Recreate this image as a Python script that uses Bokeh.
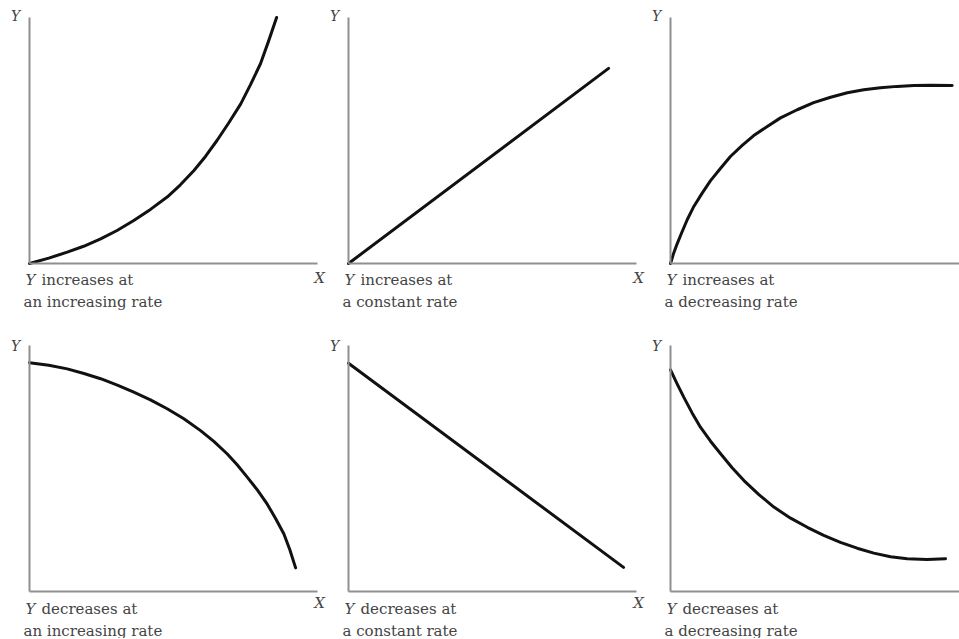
from bokeh.plotting import figure
from bokeh.layouts import column, row
from bokeh.models import Range1d, FixedTicker, Label, LinearAxis
from bokeh.embed import file_html
from bokeh.resources import INLINE

# ---- data (panel units: x 0-10, y 0-10) ----
inc_inc_x = [0.0, 0.67, 1.31, 1.88, 2.47, 3.04, 3.62, 4.20, 4.78, 5.24,
             5.71, 6.11, 6.51, 6.91, 7.33, 7.67, 8.02, 8.31, 8.58]
inc_inc_y = [0.0, 0.22, 0.46, 0.70, 1.00, 1.34, 1.75, 2.20, 2.70, 3.20,
             3.78, 4.35, 5.00, 5.70, 6.48, 7.26, 8.12, 9.07, 10.0]

inc_con_x = [0.0, 9.03]
inc_con_y = [0.0, 7.93]

inc_dec_x = [0.0, 0.11, 0.23, 0.41, 0.58, 0.81, 1.10, 1.39, 1.74, 2.08, 2.49, 2.89,
             3.36, 3.82, 4.40, 4.97, 5.56, 6.14, 6.71, 7.29, 7.87, 8.45, 9.03, 9.78]
inc_dec_y = [0.0, 0.42, 0.80, 1.31, 1.78, 2.32, 2.86, 3.37, 3.87, 4.35, 4.80, 5.20,
             5.57, 5.92, 6.25, 6.54, 6.76, 6.94, 7.06, 7.14, 7.20, 7.24, 7.25, 7.24]

dec_inc_x = [0.0, 0.67, 1.31, 1.89, 2.47, 3.05, 3.62, 4.20, 4.78, 5.36, 5.94,
             6.40, 6.86, 7.21, 7.56, 7.91, 8.25, 8.54, 8.83, 9.04, 9.24]
dec_inc_y = [9.30, 9.20, 9.05, 8.86, 8.65, 8.39, 8.10, 7.79, 7.43, 7.02, 6.54,
             6.10, 5.60, 5.15, 4.65, 4.13, 3.56, 2.98, 2.35, 1.70, 0.96]

dec_con_x = [0.0, 9.55]
dec_con_y = [9.28, 0.98]

dec_dec_x = [0.0, 0.23, 0.46, 0.75, 1.04, 1.39, 1.74, 2.14, 2.55, 3.07, 3.59,
             4.17, 4.75, 5.32, 5.90, 6.48, 7.06, 7.64, 8.22, 8.91, 9.55]
dec_dec_y = [9.01, 8.44, 7.90, 7.26, 6.68, 6.11, 5.60, 5.03, 4.51, 3.94, 3.43,
             2.98, 2.61, 2.28, 2.00, 1.76, 1.56, 1.41, 1.33, 1.30, 1.33]

caption_line1 = ["increases at", "increases at", "increases at",
                 "decreases at", "decreases at", "decreases at"]
caption_line2 = ["an increasing rate", "a constant rate", "a decreasing rate",
                 "an increasing rate", "a constant rate", "a decreasing rate"]
axis_y_label = "Y"
axis_x_label = "X"

series = [
    (inc_inc_x, inc_inc_y), (inc_con_x, inc_con_y), (inc_dec_x, inc_dec_y),
    (dec_inc_x, dec_inc_y), (dec_con_x, dec_con_y), (dec_dec_x, dec_dec_y),
]

# ---- layout / style ----
FONT = "DejaVu Serif"
TXT = "#444444"
AXIS = "#8f8f8f"
PX_X = 28.8   # pixels per x unit
PX_Y = 24.6   # pixels per y unit

col_widths = [328, 320, 311]
col_axis_left = [29, 20, 22]       # y-axis position inside each column
col_axis_len = [10.0, 10.0, None]  # None -> runs to the edge
row_heights = [335, 303]
row_axis_bottom = [263, 256]       # x-axis position inside each row
Y_dy = [2, 0]
X_dy = [-14, -11]
cap_dy1 = [-16, -17]
cap_dy2 = [-38, -39]


def panel(i):
    r, c = divmod(i, 3)
    w, h = col_widths[c], row_heights[r]
    ax_l, ax_b = col_axis_left[c], row_axis_bottom[r]
    x0 = -ax_l / PX_X
    x1 = (w - ax_l) / PX_X
    y1 = ax_b / PX_Y
    y0 = -(h - ax_b) / PX_Y
    p = figure(width=w, height=h,
               x_range=Range1d(x0, x1), y_range=Range1d(y0, y1),
               x_axis_location=None, y_axis_location=None,
               output_backend="svg", toolbar_location=None,
               min_border=0)
    p.outline_line_color = None
    p.grid.visible = False
    p.background_fill_color = "white"
    p.border_fill_color = "white"

    xlen = col_axis_len[c] if col_axis_len[c] is not None else x1
    xa = LinearAxis(fixed_location=0, bounds=(0, xlen))
    ya = LinearAxis(fixed_location=0, bounds=(0, 10))
    for ax in (xa, ya):
        ax.ticker = FixedTicker(ticks=[])
        ax.major_tick_line_color = None
        ax.minor_tick_line_color = None
        ax.major_tick_out = 0
        ax.major_tick_in = 0
        ax.minor_tick_out = 0
        ax.major_label_text_font_size = "0px"
        ax.major_label_standoff = 0
        ax.axis_line_color = AXIS
        ax.axis_line_width = 2
    p.add_layout(xa, "below")
    p.add_layout(ya, "left")

    xs, ys = series[i]
    p.line(xs, ys, line_width=3, line_color="#111111",
           line_cap="round", line_join="round")

    # axis letters
    p.add_layout(Label(x=0, y=10, text=axis_y_label, x_offset=-14, y_offset=Y_dy[r],
                       text_align="center", text_baseline="middle",
                       text_font=FONT, text_font_style="italic",
                       text_font_size="14px", text_color=TXT))
    if col_axis_len[c] is not None:
        p.add_layout(Label(x=col_axis_len[c], y=0, text=axis_x_label, x_offset=2,
                           y_offset=X_dy[r],
                           text_align="center", text_baseline="middle",
                           text_font=FONT, text_font_style="italic",
                           text_font_size="15px", text_color=TXT))

    # caption
    p.add_layout(Label(x=0, y=0, text=axis_y_label, x_offset=-4, y_offset=cap_dy1[r],
                       text_align="left", text_baseline="middle",
                       text_font=FONT, text_font_style="italic",
                       text_font_size="15px", text_color=TXT))
    p.add_layout(Label(x=0, y=0, text=caption_line1[i], x_offset=12, y_offset=cap_dy1[r],
                       text_align="left", text_baseline="middle",
                       text_font=FONT, text_font_size="15px", text_color=TXT))
    p.add_layout(Label(x=0, y=0, text=caption_line2[i], x_offset=-6, y_offset=cap_dy2[r],
                       text_align="left", text_baseline="middle",
                       text_font=FONT, text_font_size="15px", text_color=TXT))
    return p


figs = [panel(i) for i in range(6)]
layout = column(row(*figs[:3]), row(*figs[3:]))

open("out.html", "w").write(file_html(layout, INLINE))
